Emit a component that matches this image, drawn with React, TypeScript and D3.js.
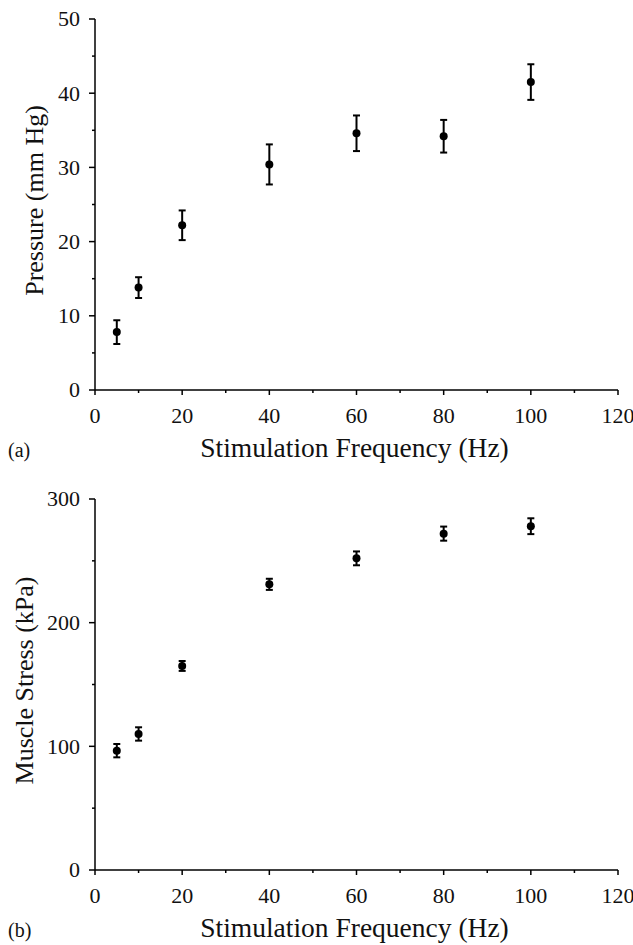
import React from "react";
import * as d3 from "d3";

const freqs = [5, 10, 20, 40, 60, 80, 100];
const pressure = [7.8, 13.8, 22.2, 30.4, 34.6, 34.2, 41.5];
const pressureErr = [1.6, 1.4, 2.0, 2.7, 2.4, 2.2, 2.4];
const stress = [96.5, 110, 165, 231, 252, 272, 278];
const stressErr = [5.4, 5.4, 4, 4.5, 5.6, 5.7, 6.4];

const xMajorTicks = [0, 20, 40, 60, 80, 100, 120];
const xMinorTicks = [10, 30, 50, 70, 90, 110];
const pressureMajorTicks = [0, 10, 20, 30, 40, 50];
const pressureMinorTicks = [5, 15, 25, 35, 45];
const stressMajorTicks = [0, 100, 200, 300];
const stressMinorTicks = [50, 150, 250];

const FONT = "'Liberation Serif', 'Times New Roman', serif";

type PanelProps = {
  values: number[];
  errs: number[];
  yMax: number;
  yTop: number;
  yBottom: number;
  majorY: number[];
  minorY: number[];
  yTitle: string;
  yTitleX: number;
  panelLabel: string;
};

function Panel(p: PanelProps) {
  const x = d3.scaleLinear().domain([0, 120]).range([95, 618]);
  const y = d3.scaleLinear().domain([0, p.yMax]).range([p.yBottom, p.yTop]);
  const x0 = x(0);
  const yb = y(0);
  const yMid = (p.yTop + p.yBottom) / 2 - 4;
  return (
    <g>
      <line x1={x0} x2={x0} y1={y(p.yMax)} y2={yb} stroke="#000" strokeWidth={1.5} />
      <line x1={x0} x2={x(120)} y1={yb} y2={yb} stroke="#000" strokeWidth={1.5} />
      {p.majorY.map((t) => (
        <g key={"ym" + t}>
          <line x1={x0 - 6} x2={x0} y1={y(t)} y2={y(t)} stroke="#000" strokeWidth={1.5} />
          <text x={80} y={y(t)} dy="0.34em" textAnchor="end" fontSize={22} fontFamily={FONT} fill="#111">
            {t}
          </text>
        </g>
      ))}
      {p.minorY.map((t) => (
        <line key={"yn" + t} x1={x0 - 3} x2={x0} y1={y(t)} y2={y(t)} stroke="#000" strokeWidth={1.5} />
      ))}
      {xMajorTicks.map((t) => (
        <g key={"xm" + t}>
          <line x1={x(t)} x2={x(t)} y1={yb} y2={yb + 5} stroke="#000" strokeWidth={1.5} />
          <text x={x(t)} y={yb + 33} textAnchor="middle" fontSize={22} fontFamily={FONT} fill="#111">
            {t}
          </text>
        </g>
      ))}
      {xMinorTicks.map((t) => (
        <line key={"xn" + t} x1={x(t)} x2={x(t)} y1={yb} y2={yb + 3} stroke="#000" strokeWidth={1.5} />
      ))}
      <text x={(x(0) + x(120)) / 2 - 2} y={yb + 67} textAnchor="middle" fontSize={27.5} fontFamily={FONT} fill="#111">
        Stimulation Frequency (Hz)
      </text>
      <text
        transform={`translate(${p.yTitleX},${yMid}) rotate(-90)`}
        textAnchor="middle"
        fontSize={26}
        fontFamily={FONT}
        fill="#111"
      >
        {p.yTitle}
      </text>
      <text x={8} y={yb + 67} fontSize={20} fontFamily={FONT} fill="#111">
        {p.panelLabel}
      </text>
      {freqs.map((f, i) => {
        const cx = x(f);
        const yt = y(p.values[i] + p.errs[i]);
        const ybt = y(p.values[i] - p.errs[i]);
        return (
          <g key={"d" + i}>
            <line x1={cx} x2={cx} y1={yt} y2={ybt} stroke="#000" strokeWidth={2} />
            <line x1={cx - 3.5} x2={cx + 3.5} y1={yt} y2={yt} stroke="#000" strokeWidth={2} />
            <line x1={cx - 3.5} x2={cx + 3.5} y1={ybt} y2={ybt} stroke="#000" strokeWidth={2} />
            <circle cx={cx} cy={y(p.values[i])} r={4} fill="#000" />
          </g>
        );
      })}
    </g>
  );
}

export default function App() {
  return (
    <svg
      width={633}
      height={945}
      viewBox="0 0 633 945"
      style={{ position: "absolute", left: 0, top: 0, background: "#fff" }}
    >
      <rect x={0} y={0} width={633} height={945} fill="#fff" />
      <Panel
        values={pressure}
        errs={pressureErr}
        yMax={50}
        yTop={19}
        yBottom={390}
        majorY={pressureMajorTicks}
        minorY={pressureMinorTicks}
        yTitle="Pressure (mm Hg)"
        yTitleX={43}
        panelLabel="(a)"
      />
      <Panel
        values={stress}
        errs={stressErr}
        yMax={300}
        yTop={499}
        yBottom={870}
        majorY={stressMajorTicks}
        minorY={stressMinorTicks}
        yTitle="Muscle Stress (kPa)"
        yTitleX={33}
        panelLabel="(b)"
      />
    </svg>
  );
}
